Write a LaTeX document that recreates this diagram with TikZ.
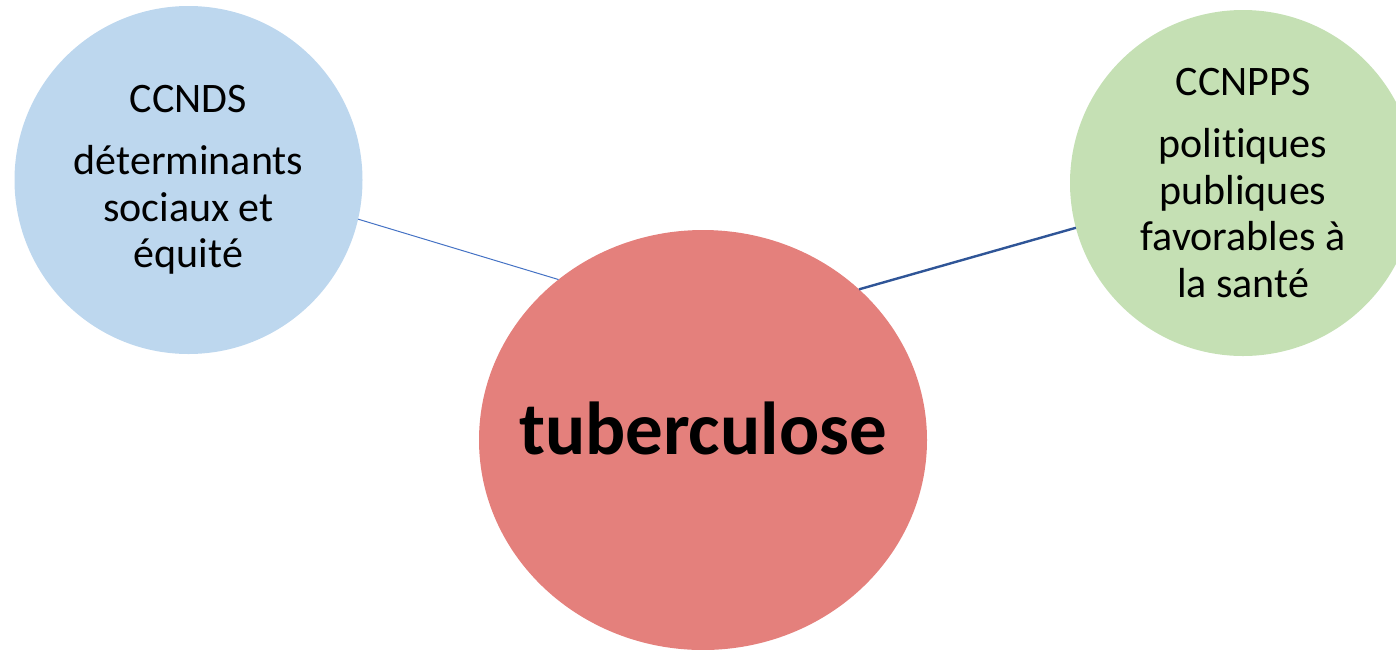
\documentclass[tikz,border=0pt]{standalone}
\usepackage{fontspec}
\setmainfont{Carlito}[Ligatures=NoCommon]
\usetikzlibrary{shapes.geometric}
\definecolor{bulleblue}{HTML}{BDD7EE}
\definecolor{bullegreen}{HTML}{C5E0B4}
\definecolor{bullered}{HTML}{E4807C}
\definecolor{lienblue}{HTML}{4472C4}
\definecolor{liendark}{HTML}{2F5597}
\tikzset{bulle/.style={inner sep=0pt,outer sep=0pt,align=center,font=\fontsize{21}{23.25}\selectfont}}

\begin{document}
\begin{tikzpicture}[x=0.5pt,y=-0.5pt]
\useasboundingbox (0,0) rectangle (1396,649);
\clip (0,0) rectangle (1396,649);
\node[bulle,circle,fill=bulleblue,minimum size=174pt] (ccnds) at (188.5,180) {CCNDS\\[7.75pt]déterminants\\sociaux et\\équité};
\node[bulle,circle,fill=bullegreen,minimum size=173pt] (ccnpps) at (1243,183) {CCNPPS\\[7.75pt]politiques\\publiques\\favorables à\\la santé};
\node[bulle,ellipse,fill=bullered,minimum width=224pt,minimum height=210pt] (tb) at (703,440) {};
\node[font=\fontsize{37.5}{45}\selectfont\bfseries] (tbtext) at ([yshift=6pt]tb.center) {tuberculose};
\draw[lienblue,line width=0.5pt] (ccnds.-13) -- (tb.132);
\draw[liendark,line width=1.2pt] (tb.44) -- (ccnpps.195);
\end{tikzpicture}
\end{document}
